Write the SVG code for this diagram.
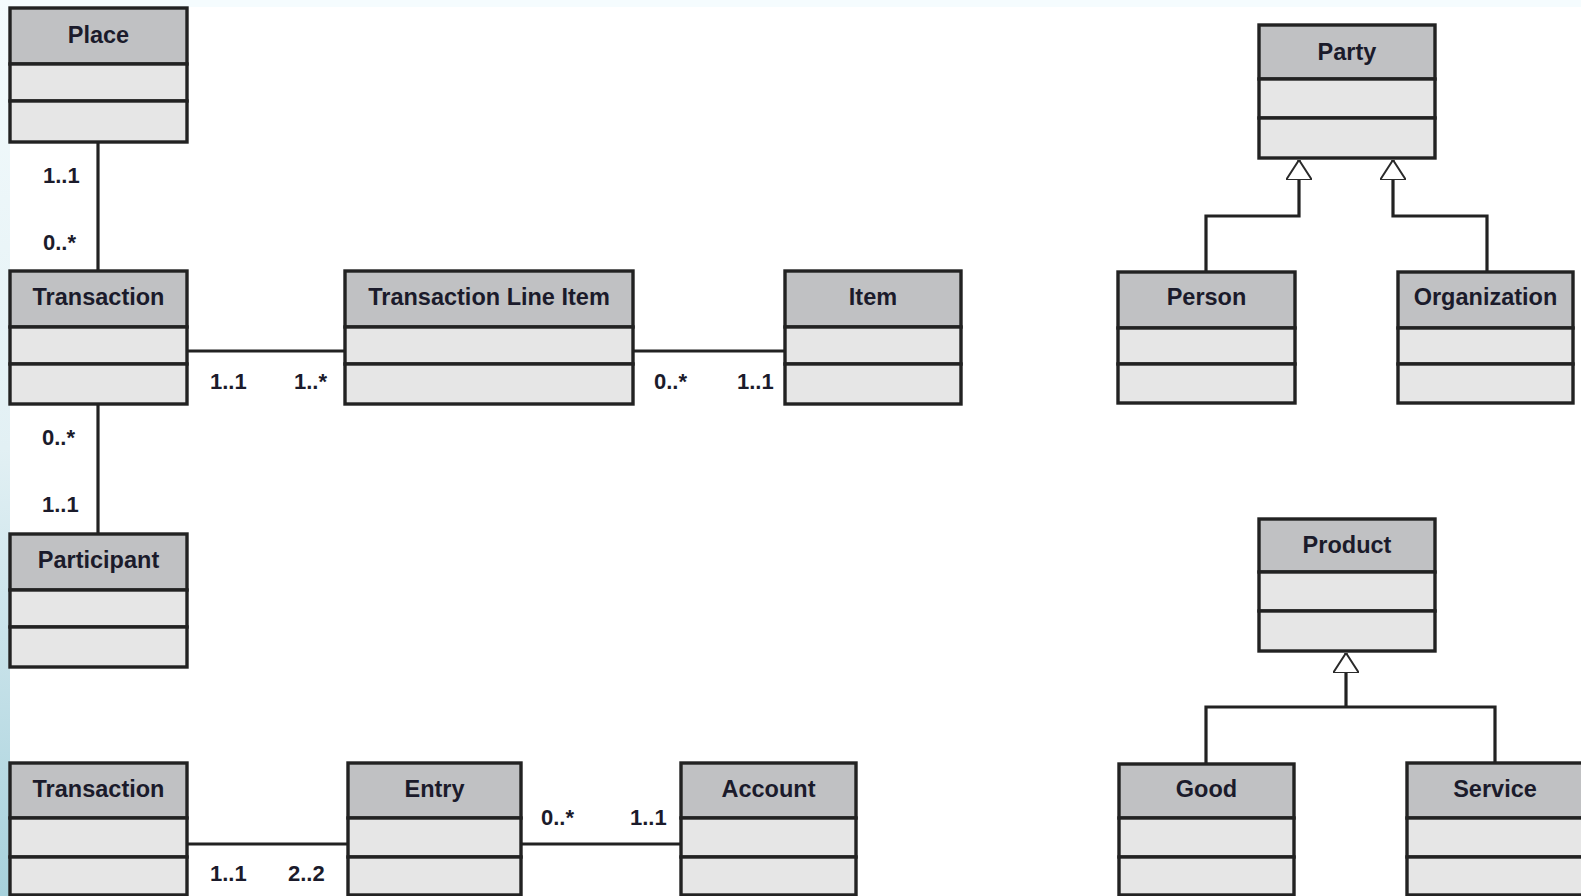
<svg xmlns="http://www.w3.org/2000/svg" width="1581" height="896" viewBox="0 0 1581 896">
  <defs>
    <linearGradient id="edgeFade" x1="0" y1="0" x2="0" y2="1">
      <stop offset="0" stop-color="#f4fbfd"/>
      <stop offset="0.5" stop-color="#e2f0f4"/>
      <stop offset="1" stop-color="#a7d1dc"/>
    </linearGradient>
    <!-- hollow generalization arrowhead -->
    <marker id="inherit" viewBox="0 0 20 26" refX="20" refY="13" markerWidth="20" markerHeight="26" markerUnits="userSpaceOnUse" orient="auto">
      <path d="M0,0 L20,13 L0,26 Z" fill="#ffffff" stroke="#2a2a2a" stroke-width="2"/>
    </marker>
    <style>
      .hdr { fill: #c0c1c3; stroke: #222222; stroke-width: 3.4; }
      .cmp { fill: #e6e6e6; stroke: #222222; stroke-width: 3.4; }
      .name { font-family: "Liberation Sans", Arial, sans-serif; font-weight: bold; font-size: 23.5px; fill: #1b1b2b; text-anchor: middle; }
      .mult { font-family: "Liberation Sans", Arial, sans-serif; font-weight: bold; font-size: 22px; fill: #1b1b2b; }
      .assoc { fill: none; stroke: #222222; stroke-width: 3.2; }
      .gen { fill: none; stroke: #222222; stroke-width: 3.2; marker-end: url(#inherit); }
    </style>
  </defs>

  <!-- page background -->
  <rect x="0" y="0" width="1581" height="896" fill="#ffffff"/>
  <rect x="0" y="0" width="1581" height="7" fill="#f5fcfe"/>
  <rect x="0" y="0" width="10" height="896" fill="url(#edgeFade)"/>

  <!-- connectors -->
  <g id="connectors">
    <line class="assoc" x1="98" y1="142" x2="98" y2="271"/>
    <line class="assoc" x1="98" y1="404" x2="98" y2="534"/>
    <line class="assoc" x1="187" y1="351" x2="345" y2="351"/>
    <line class="assoc" x1="633" y1="351" x2="785" y2="351"/>
    <line class="assoc" x1="187" y1="844" x2="348" y2="844"/>
    <line class="assoc" x1="521" y1="844" x2="681" y2="844"/>
    <path class="gen" d="M1206,272 V216 H1299 V160"/>
    <path class="gen" d="M1487,272 V216 H1393 V160"/>
    <path class="assoc" d="M1206,764 V707 H1495 V763"/>
    <path class="gen" d="M1346,707 V653"/>

    <!-- multiplicities -->
    <text class="mult" x="43" y="183">1..1</text>
    <text class="mult" x="43" y="250">0..*</text>
    <text class="mult" x="210" y="389">1..1</text>
    <text class="mult" x="294" y="389">1..*</text>
    <text class="mult" x="654" y="389">0..*</text>
    <text class="mult" x="737" y="389">1..1</text>
    <text class="mult" x="42" y="445">0..*</text>
    <text class="mult" x="42" y="512">1..1</text>
    <text class="mult" x="210" y="881">1..1</text>
    <text class="mult" x="288" y="881">2..2</text>
    <text class="mult" x="541" y="825">0..*</text>
    <text class="mult" x="630" y="825">1..1</text>
  </g>

  <g id="place">
    <rect class="hdr" x="10" y="8" width="177" height="56"/>
    <rect class="cmp" x="10" y="64" width="177" height="37"/>
    <rect class="cmp" x="10" y="101" width="177" height="41"/>
    <text class="name" x="98.5" y="43">Place</text>
  </g>

  <g id="transaction">
    <rect class="hdr" x="10" y="271" width="177" height="56"/>
    <rect class="cmp" x="10" y="327" width="177" height="37"/>
    <rect class="cmp" x="10" y="364" width="177" height="40"/>
    <text class="name" x="98.5" y="305">Transaction</text>
  </g>

  <g id="transaction-line-item">
    <rect class="hdr" x="345" y="271" width="288" height="56"/>
    <rect class="cmp" x="345" y="327" width="288" height="37"/>
    <rect class="cmp" x="345" y="364" width="288" height="40"/>
    <text class="name" x="489" y="305">Transaction Line Item</text>
  </g>

  <g id="item">
    <rect class="hdr" x="785" y="271" width="176" height="56"/>
    <rect class="cmp" x="785" y="327" width="176" height="37"/>
    <rect class="cmp" x="785" y="364" width="176" height="40"/>
    <text class="name" x="873" y="305">Item</text>
  </g>

  <g id="participant">
    <rect class="hdr" x="10" y="534" width="177" height="56"/>
    <rect class="cmp" x="10" y="590" width="177" height="37"/>
    <rect class="cmp" x="10" y="627" width="177" height="40"/>
    <text class="name" x="98.5" y="568">Participant</text>
  </g>

  <g id="party">
    <rect class="hdr" x="1259" y="25" width="176" height="54"/>
    <rect class="cmp" x="1259" y="79" width="176" height="39"/>
    <rect class="cmp" x="1259" y="118" width="176" height="40"/>
    <text class="name" x="1347" y="60">Party</text>
  </g>

  <g id="person">
    <rect class="hdr" x="1118" y="272" width="177" height="56"/>
    <rect class="cmp" x="1118" y="328" width="177" height="36"/>
    <rect class="cmp" x="1118" y="364" width="177" height="39"/>
    <text class="name" x="1206.5" y="305">Person</text>
  </g>

  <g id="organization">
    <rect class="hdr" x="1398" y="272" width="175" height="56"/>
    <rect class="cmp" x="1398" y="328" width="175" height="36"/>
    <rect class="cmp" x="1398" y="364" width="175" height="39"/>
    <text class="name" x="1485.5" y="305">Organization</text>
  </g>

  <g id="product">
    <rect class="hdr" x="1259" y="519" width="176" height="53"/>
    <rect class="cmp" x="1259" y="572" width="176" height="39"/>
    <rect class="cmp" x="1259" y="611" width="176" height="40"/>
    <text class="name" x="1347" y="553">Product</text>
  </g>

  <g id="good">
    <rect class="hdr" x="1119" y="764" width="175" height="54"/>
    <rect class="cmp" x="1119" y="818" width="175" height="39"/>
    <rect class="cmp" x="1119" y="857" width="175" height="38"/>
    <text class="name" x="1206.5" y="797">Good</text>
  </g>

  <g id="service">
    <rect class="hdr" x="1407" y="763" width="178" height="55"/>
    <rect class="cmp" x="1407" y="818" width="178" height="39"/>
    <rect class="cmp" x="1407" y="857" width="178" height="38"/>
    <text class="name" x="1495" y="797">Service</text>
  </g>

  <g id="ledger-transaction">
    <rect class="hdr" x="10" y="763" width="177" height="55"/>
    <rect class="cmp" x="10" y="818" width="177" height="39"/>
    <rect class="cmp" x="10" y="857" width="177" height="38"/>
    <text class="name" x="98.5" y="797">Transaction</text>
  </g>

  <g id="entry">
    <rect class="hdr" x="348" y="763" width="173" height="55"/>
    <rect class="cmp" x="348" y="818" width="173" height="39"/>
    <rect class="cmp" x="348" y="857" width="173" height="38"/>
    <text class="name" x="434.5" y="797">Entry</text>
  </g>

  <g id="account">
    <rect class="hdr" x="681" y="763" width="175" height="55"/>
    <rect class="cmp" x="681" y="818" width="175" height="39"/>
    <rect class="cmp" x="681" y="857" width="175" height="38"/>
    <text class="name" x="768.5" y="797">Account</text>
  </g>
</svg>
